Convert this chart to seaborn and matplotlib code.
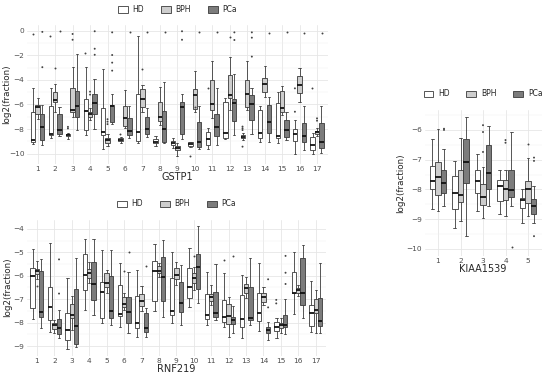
import matplotlib
matplotlib.use("Agg")
import matplotlib.pyplot as plt
from matplotlib.patches import Patch
from matplotlib.ticker import MultipleLocator
import pandas as pd
import seaborn as sns

hue_order = ["HD", "BPH", "PCa"]
fills = {"HD": "#ffffff", "BPH": "#cdcdcd", "PCa": "#7c7c7c"}

# each box: lower whisker, q1, median, q3, upper whisker
gstp1_hd = [[-9.18, -9.05, -8.91, -6.65, -4.69], [-8.72, -8.45, -8.37, -6.13, -4.69],
            [-8.77, -8.58, -8.5, -8.42, -8.28], [-8.5, -8.09, -6.54, -5.59, -2.97],
            [-9.59, -8.5, -8.23, -6.32, -3.13], [-9.13, -8.97, -8.88, -8.75, -8.64],
            [-9.16, -8.97, -8.21, -5.18, -0.43], [-9.35, -9.16, -9.02, -8.83, -8.6],
            [-9.57, -9.3, -9.1, -8.94, -8.75], [-9.43, -9.35, -9.21, -9.08, -9.02],
            [-9.65, -9.3, -8.83, -8.27, -7.94], [-8.83, -8.75, -8.35, -5.83, -5.5],
            [-8.89, -8.75, -8.62, -8.48, -8.29], [-9.02, -8.75, -8.35, -6.45, -6.12],
            [-9.16, -8.75, -8.56, -5.85, -5.01], [-10.0, -8.97, -8.43, -8.02, -7.26],
            [-10.03, -9.7, -9.3, -8.62, -8.35]]
gstp1_bph = [[-7.19, -6.81, -6.19, -6.05, -5.5], [-6.65, -5.83, -5.64, -4.96, -4.36],
             [-7.0, -6.65, -6.46, -4.69, -2.92], [-7.28, -7.0, -6.81, -6.65, -6.27],
             [-9.37, -9.1, -8.91, -8.72, -8.37], [-7.94, -7.75, -7.13, -6.1, -4.82],
             [-6.59, -6.23, -5.58, -4.77, -4.42], [-7.67, -7.32, -6.99, -5.83, -4.61],
             [-10.19, -9.7, -9.57, -9.35, -9.16], [-6.59, -6.4, -5.23, -4.77, -3.25],
             [-7.13, -6.45, -5.96, -4.01, -2.44], [-6.45, -5.5, -5.23, -3.6, -2.17],
             [-6.45, -6.18, -5.18, -4.01, -2.44], [-5.37, -4.96, -4.34, -3.88, -2.87],
             [-6.86, -6.59, -6.31, -4.88, -4.5], [-5.77, -5.04, -4.42, -3.69, -3.06],
             [-8.56, -8.4, -8.27, -8.16, -7.94]]
gstp1_pca = [[-9.32, -8.91, -7.82, -6.81, -6.05], [-8.58, -8.37, -8.09, -6.81, -6.19],
             [-8.04, -7.0, -6.13, -4.9, -1.91], [-7.96, -6.81, -5.91, -5.15, -3.95],
             [-7.55, -7.41, -6.1, -6.05, -5.18], [-8.7, -8.48, -8.16, -7.07, -6.1],
             [-8.62, -8.43, -8.02, -6.99, -6.26], [-9.16, -9.02, -8.02, -6.53, -4.2],
             [-8.83, -8.43, -6.18, -5.77, -5.18], [-9.62, -9.43, -9.02, -7.45, -6.12],
             [-9.3, -8.54, -7.8, -6.78, -4.69], [-8.48, -7.34, -5.91, -5.56, -3.52],
             [-8.43, -7.26, -5.96, -5.23, -4.69], [-9.02, -8.29, -7.45, -6.04, -5.37],
             [-8.89, -8.62, -8.08, -7.26, -6.59], [-9.7, -9.02, -8.54, -7.53, -6.12],
             [-9.97, -9.51, -9.02, -7.53, -6.12]]
gstp1_out = [(1, "HD", -0.3), (1, "PCa", -0.1), (1, "PCa", -2.97), (2, "HD", -0.46),
             (2, "BPH", -3.05), (2, "PCa", -0.05), (3, "HD", -7.82), (3, "HD", -7.95),
             (3, "BPH", -0.27), (3, "BPH", -0.74), (4, "HD", -1.83), (4, "BPH", -4.96),
             (4, "BPH", -5.2), (4, "PCa", -0.05), (4, "PCa", -1.47), (4, "PCa", -1.96),
             (5, "BPH", -7.2), (5, "BPH", -7.4), (5, "BPH", -7.6), (5, "PCa", -0.14),
             (5, "PCa", -1.98), (5, "PCa", -2.6), (5, "PCa", -3.25), (6, "HD", -8.37),
             (6, "PCa", -0.14), (7, "BPH", -3.14), (7, "PCa", -0.14), (8, "PCa", -0.14),
             (9, "PCa", -0.05), (9, "PCa", -0.74), (10, "HD", -10.2), (10, "BPH", -6.23),
             (10, "PCa", -0.14), (11, "HD", -4.69), (11, "PCa", -0.14), (12, "BPH", -0.49),
             (12, "PCa", -0.14), (12, "PCa", -0.76), (13, "HD", -7.8), (13, "HD", -7.94),
             (13, "HD", -8.08), (13, "HD", -9.43), (13, "PCa", -0.14), (13, "PCa", -0.57),
             (13, "PCa", -2.11), (14, "PCa", -0.22), (15, "PCa", -0.14), (16, "HD", -4.69),
             (16, "HD", -6.59), (16, "PCa", -0.22), (17, "HD", -4.69), (17, "BPH", -7.13),
             (17, "BPH", -7.32), (17, "PCa", -0.22)]

rnf219_hd = [[-7.86, -7.39, -6.01, -5.68, -4.85], [-8.39, -7.89, -7.35, -6.46, -4.61],
             [-9.14, -8.74, -8.32, -7.6, -6.11], [-7.46, -6.61, -5.97, -5.08, -4.43],
             [-8.03, -7.82, -6.71, -6.25, -4.9], [-8.17, -7.72, -7.65, -6.39, -5.44],
             [-8.6, -8.22, -8.0, -6.86, -5.75], [-7.49, -7.08, -5.79, -5.35, -4.64],
             [-8.03, -7.68, -7.49, -6.11, -4.97], [-7.35, -6.96, -6.49, -5.68, -4.83],
             [-8.1, -7.85, -7.68, -6.78, -5.82], [-8.17, -7.96, -7.77, -7.03, -5.87],
             [-8.67, -8.2, -7.86, -6.82, -5.97], [-8.35, -7.92, -7.6, -6.72, -5.44],
             [-8.67, -8.35, -8.17, -7.96, -7.82], [-7.63, -6.75, -6.72, -5.82, -4.97],
             [-8.39, -8.15, -7.58, -7.25, -6.21]]
rnf219_bph = [[-6.15, -5.92, -5.78, -5.72, -5.35], [-8.43, -8.29, -8.09, -8.0, -7.89],
              [-8.32, -7.82, -7.68, -7.22, -6.86], [-6.32, -6.11, -5.89, -5.72, -5.4],
              [-6.75, -6.49, -6.32, -5.89, -5.75], [-7.46, -7.35, -7.21, -6.92, -6.75],
              [-7.49, -7.29, -7.06, -6.78, -6.42], [-6.07, -5.89, -5.78, -5.58, -5.44],
              [-6.39, -6.15, -5.97, -5.68, -5.4], [-6.61, -6.32, -6.11, -5.89, -5.61],
              [-7.25, -7.06, -6.92, -6.78, -6.39], [-8.6, -8.06, -7.72, -7.22, -6.92],
              [-6.96, -6.75, -6.54, -6.36, -6.07], [-7.25, -7.11, -6.89, -6.72, -6.49],
              [-8.46, -8.25, -8.1, -8.0, -7.82], [-6.86, -6.72, -6.61, -6.54, -6.39],
              [-8.46, -7.58, -7.46, -7.0, -6.61]]
rnf219_pca = [[-8.25, -7.77, -7.53, -5.78, -5.3], [-8.67, -8.49, -8.24, -7.86, -7.46],
              [-9.05, -8.9, -8.13, -6.56, -5.25], [-7.68, -7.03, -6.35, -5.42, -4.43],
              [-8.1, -7.82, -7.49, -5.99, -4.9], [-8.46, -8.0, -7.53, -6.89, -5.82],
              [-8.6, -8.39, -8.24, -7.6, -7.39], [-7.75, -7.06, -6.07, -5.18, -4.47],
              [-8.1, -7.53, -7.18, -6.25, -5.54], [-7.15, -6.56, -5.61, -5.08, -3.87],
              [-7.89, -7.77, -7.6, -6.68, -5.5], [-8.46, -8.06, -7.89, -7.75, -7.29],
              [-8.1, -7.89, -7.79, -6.46, -5.25], [-8.74, -8.46, -8.32, -8.17, -7.99],
              [-8.49, -8.2, -8.1, -7.68, -7.0], [-7.82, -7.25, -6.72, -5.25, -4.68],
              [-8.46, -8.15, -7.92, -6.96, -5.44]]
rnf219_out = [(1, "BPH", -6.44), (2, "PCa", -5.3), (2, "PCa", -6.76), (6, "BPH", -5.78),
              (6, "PCa", -5.0), (7, "PCa", -5.58), (10, "BPH", -5.15), (12, "HD", -5.32),
              (12, "PCa", -5.15), (14, "PCa", -6.15), (14, "PCa", -7.35), (15, "HD", -7.03),
              (15, "HD", -7.18), (15, "PCa", -5.15), (15, "PCa", -5.87), (15, "PCa", -6.35)]

kiaa_hd = [[-8.67, -8.0, -7.72, -7.21, -6.29], [-9.29, -8.65, -8.13, -7.55, -7.04],
           [-8.73, -8.11, -7.72, -7.33, -6.82], [-8.84, -8.39, -7.87, -7.69, -7.33],
           [-9.12, -8.62, -8.36, -8.28, -8.0]]
kiaa_bph = [[-8.71, -8.2, -7.57, -7.08, -5.96], [-9.07, -8.43, -8.17, -7.36, -6.26],
            [-8.96, -8.51, -8.25, -7.83, -7.24], [-8.9, -8.34, -8.0, -7.69, -7.33],
            [-8.9, -8.45, -8.0, -7.72, -6.93]]
kiaa_pca = [[-8.56, -8.11, -7.8, -7.35, -6.63], [-9.55, -7.78, -7.07, -6.31, -5.55],
            [-8.54, -7.97, -7.46, -6.52, -5.87], [-8.56, -8.25, -8.02, -7.33, -6.07],
            [-9.12, -8.84, -8.56, -8.31, -7.89]]
kiaa_out = [(1, "PCa", -5.96), (1, "PCa", -6.0), (3, "BPH", -5.84), (3, "BPH", -6.07),
            (3, "BPH", -6.74), (4, "BPH", -6.34), (4, "BPH", -6.43), (4, "PCa", -9.93),
            (5, "BPH", -6.48), (5, "PCa", -6.93), (5, "PCa", -7.04), (5, "PCa", -9.57)]


def long_df(hd, bph, pca):
    rows = []
    for grp, boxes in zip(hue_order, [hd, bph, pca]):
        for i, five in enumerate(boxes):
            for v in five:
                rows.append((str(i + 1), grp, v))
    return pd.DataFrame(rows, columns=["site", "group", "value"])


W, H = 550, 378
fig = plt.figure(figsize=(W / 100, H / 100), dpi=100)
sns.set_style("white")
plt.rcParams["font.family"] = ["DejaVu Sans"]


def panel(left, right, top, bottom, boxes, outliers, xlabel, ylim, major, leg_y, ylab_x):
    ax = fig.add_axes([left / W, 1 - bottom / H, (right - left) / W, (bottom - top) / H])
    df = long_df(*boxes)
    n = len(boxes[0])
    order = [str(i) for i in range(1, n + 1)]
    sns.boxplot(data=df, x="site", y="value", hue="group", order=order, hue_order=hue_order,
                palette=fills, saturation=1, whis=(0, 100), showfliers=False, width=0.75,
                linewidth=0.6, linecolor="#3a3a3a",
                medianprops=dict(color="#111111", linewidth=1.3),
                legend=False, ax=ax)
    odf = pd.DataFrame(outliers, columns=["site", "group", "value"])
    odf["site"] = odf["site"].astype(str)
    sns.stripplot(data=odf, x="site", y="value", hue="group", order=order, hue_order=hue_order,
                  dodge=True, jitter=False, size=1.4, linewidth=0,
                  palette={g: "#444444" for g in hue_order}, legend=False, ax=ax)
    ax.set_xlim(-0.6, n - 0.4)
    ax.set_ylim(*ylim)
    ax.yaxis.set_major_locator(MultipleLocator(major))
    ax.yaxis.set_minor_locator(MultipleLocator(major / 2))
    ax.grid(True, which="major", color="#e6e6e6", linewidth=0.6)
    ax.grid(True, which="minor", axis="y", color="#f0f0f0", linewidth=0.35)
    ax.set_axisbelow(True)
    for s in ax.spines.values():
        s.set_visible(False)
    ax.tick_params(length=0, labelsize=5.3, labelcolor="#4d4d4d", pad=2)
    ax.set_xlabel(xlabel, fontsize=7, labelpad=0)
    ax.set_ylabel("log2(fraction)", fontsize=6.3)
    ax.yaxis.set_label_coords((ylab_x - left) / (right - left), 0.5)
    handles = [Patch(facecolor=fills[g], edgecolor="#3a3a3a", linewidth=0.6, label=g)
               for g in hue_order]
    ax.legend(handles=handles, loc="center", ncol=3, frameon=False, fontsize=5.5,
              bbox_to_anchor=(0.5, 1 + (top - leg_y) / (bottom - top)),
              handlelength=1.3, handleheight=0.9, handletextpad=0.6,
              columnspacing=2.2)
    return ax


panel(27.2, 327.5, 24.5, 163.5, [gstp1_hd, gstp1_bph, gstp1_pca], gstp1_out,
      "GSTP1", (-10.8, 0.5), 2, 9.5, 11)
panel(26.5, 326.2, 219.6, 355.6, [rnf219_hd, rnf219_bph, rnf219_pca], rnf219_out,
      "RNF219", (-9.41, -3.6), 1, 204, 12)
panel(424.5, 541.5, 110, 255.5, [kiaa_hd, kiaa_bph, kiaa_pca], kiaa_out,
      "KIAA1539", (-10.22, -5.33), 1, 94, 405)

fig.savefig("out.png", dpi=100)
